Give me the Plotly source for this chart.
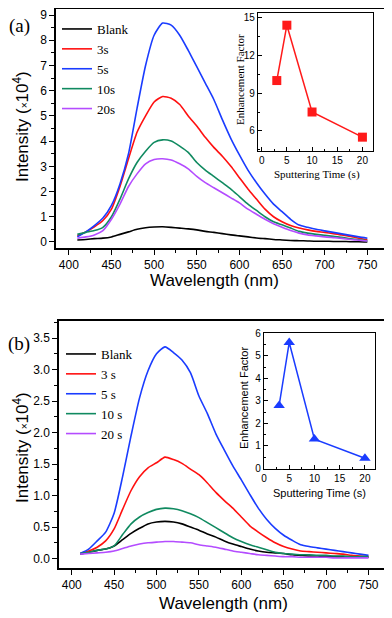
import plotly.graph_objects as go

# wavelength grid (nm)
wavelength = [410, 420, 430, 440, 450, 460, 470, 480, 490, 500, 510, 520, 530, 540, 550, 560, 570, 580,
              590, 600, 610, 620, 630, 640, 650, 660, 670, 680, 690, 700, 710, 720, 730, 740, 750]

series_names_a = ["Blank", "3s", "5s", "10s", "20s"]
series_names_b = ["Blank", "3 s", "5 s", "10 s", "20 s"]
colors = ["#000000", "#ff1010", "#1a3cff", "#108a60", "#b44cff"]

# panel (a) intensities (x10^4)
blank_a = [0.08, 0.10, 0.13, 0.15, 0.20, 0.30, 0.40, 0.50, 0.56, 0.59, 0.60, 0.58, 0.55, 0.52, 0.48, 0.42, 0.38, 0.33,
           0.28, 0.24, 0.20, 0.16, 0.13, 0.10, 0.08, 0.06, 0.05, 0.04, 0.03, 0.03, 0.02, 0.02, 0.01, 0.01, 0.00]
s3_a = [0.25, 0.40, 0.60, 0.85, 1.30, 2.20, 3.30, 4.35, 5.00, 5.55, 5.77, 5.70, 5.45, 5.00, 4.60, 4.15, 3.75, 3.40,
        3.00, 2.55, 2.10, 1.70, 1.30, 1.00, 0.80, 0.65, 0.55, 0.48, 0.42, 0.38, 0.33, 0.28, 0.22, 0.15, 0.09]
s5_a = [0.20, 0.40, 0.65, 0.95, 1.45, 2.30, 3.50, 5.30, 7.00, 8.20, 8.68, 8.60, 8.20, 7.60, 6.95, 6.30, 5.65, 4.85,
        4.10, 3.45, 2.85, 2.35, 1.90, 1.50, 1.20, 0.90, 0.67, 0.58, 0.50, 0.44, 0.38, 0.32, 0.26, 0.20, 0.15]
s10_a = [0.30, 0.38, 0.45, 0.58, 1.00, 1.70, 2.50, 3.15, 3.60, 3.95, 4.05, 4.00, 3.80, 3.55, 3.15, 2.85, 2.60, 2.35,
         2.10, 1.80, 1.50, 1.25, 1.00, 0.80, 0.68, 0.55, 0.42, 0.35, 0.30, 0.26, 0.22, 0.18, 0.13, 0.09, 0.05]
s20_a = [0.15, 0.20, 0.28, 0.45, 0.90, 1.50, 2.20, 2.70, 3.10, 3.27, 3.30, 3.25, 3.10, 2.90, 2.60, 2.35, 2.15, 1.95,
         1.75, 1.55, 1.30, 1.10, 0.90, 0.72, 0.58, 0.45, 0.35, 0.28, 0.24, 0.20, 0.17, 0.14, 0.10, 0.07, 0.04]

# panel (b) intensities (x10^4)
blank_b = [0.07, 0.10, 0.13, 0.15, 0.20, 0.30, 0.40, 0.48, 0.55, 0.58, 0.59, 0.58, 0.55, 0.50, 0.45, 0.39, 0.34, 0.28,
           0.23, 0.19, 0.15, 0.12, 0.10, 0.09, 0.08, 0.06, 0.05, 0.04, 0.04, 0.03, 0.03, 0.03, 0.02, 0.02, 0.02]
s3_b = [0.08, 0.12, 0.18, 0.28, 0.47, 0.78, 1.08, 1.30, 1.44, 1.52, 1.61, 1.57, 1.51, 1.42, 1.33, 1.20, 1.05, 0.92,
        0.80, 0.66, 0.52, 0.42, 0.33, 0.25, 0.19, 0.15, 0.12, 0.11, 0.10, 0.09, 0.08, 0.07, 0.05, 0.04, 0.03]
s5_b = [0.08, 0.15, 0.28, 0.42, 0.72, 1.30, 1.95, 2.55, 2.98, 3.25, 3.36, 3.27, 3.15, 2.95, 2.58, 2.30, 1.98, 1.72,
        1.47, 1.25, 1.02, 0.80, 0.62, 0.48, 0.37, 0.29, 0.22, 0.19, 0.17, 0.15, 0.13, 0.11, 0.09, 0.07, 0.05]
s10_b = [0.08, 0.10, 0.13, 0.15, 0.20, 0.38, 0.55, 0.66, 0.73, 0.78, 0.80, 0.79, 0.76, 0.71, 0.65, 0.57, 0.49, 0.41,
         0.33, 0.27, 0.22, 0.18, 0.14, 0.10, 0.08, 0.07, 0.06, 0.06, 0.05, 0.05, 0.04, 0.04, 0.03, 0.03, 0.03]
s20_b = [0.07, 0.08, 0.09, 0.10, 0.12, 0.16, 0.20, 0.23, 0.25, 0.26, 0.27, 0.27, 0.26, 0.25, 0.22, 0.20, 0.18, 0.15,
         0.12, 0.10, 0.08, 0.06, 0.05, 0.04, 0.03, 0.03, 0.02, 0.02, 0.02, 0.02, 0.01, 0.01, 0.01, 0.01, 0.01]

# insets: enhancement factor vs sputtering time
sput_time = [3, 5, 10, 20]
enh_a = [10.0, 14.4, 7.5, 5.5]
enh_b = [2.8, 5.6, 1.3, 0.45]

W, H = 392, 618
OFF = 8  # the page body puts the figure 8px in from the top-left corner


def px_x(a, b):
    return [(a - OFF) / W, (b - OFF) / W]


def px_y(top, bottom):
    return [1 - (bottom - OFF) / H, 1 - (top - OFF) / H]


fig = go.Figure()

for name, ys, c in zip(series_names_a, [blank_a, s3_a, s5_a, s10_a, s20_a], colors):
    fig.add_trace(go.Scatter(x=wavelength, y=ys, name=name, mode="lines",
                             line=dict(color=c, width=1.6, shape="spline", smoothing=0.6),
                             xaxis="x", yaxis="y", legend="legend"))

for name, ys, c in zip(series_names_b, [blank_b, s3_b, s5_b, s10_b, s20_b], colors):
    fig.add_trace(go.Scatter(x=wavelength, y=ys, name=name, mode="lines",
                             line=dict(color=c, width=1.6, shape="spline", smoothing=0.6),
                             xaxis="x3", yaxis="y3", legend="legend2"))

fig.add_trace(go.Scatter(x=sput_time, y=enh_a, mode="lines+markers", showlegend=False,
                         line=dict(color="#ff1a1a", width=1.5),
                         marker=dict(symbol="square", size=9, color="#ff1a1a"),
                         xaxis="x2", yaxis="y2"))
fig.add_trace(go.Scatter(x=sput_time, y=enh_b, mode="lines+markers", showlegend=False,
                         line=dict(color="#1a3cff", width=1.5),
                         marker=dict(symbol="triangle-up", size=10, color="#1a3cff"),
                         xaxis="x4", yaxis="y4"))

tickfont = dict(family="Arial, Liberation Sans", size=12, color="black")
inset_tickfont = dict(family="Arial, Liberation Sans", size=10, color="black")


def ax(domain, rng, dtick, minor_dtick, anchor, font, tickformat=None, lw=1.5, tl=5, side="outside"):
    d = dict(domain=domain, range=rng, dtick=dtick, tick0=0, anchor=anchor, automargin=False,
             showline=True, mirror=True, linecolor="black", linewidth=lw,
             ticks=side, ticklen=tl, tickwidth=1.2, tickcolor="black",
             minor=dict(dtick=minor_dtick, ticks=side, ticklen=max(tl - 2, 2), tickwidth=1, tickcolor="black"),
             showgrid=False, zeroline=False, tickfont=font)
    if tickformat:
        d["tickformat"] = tickformat
    return d


fig.update_layout(
    width=W, height=H,
    margin=dict(l=0, r=0, t=0, b=0, pad=0, autoexpand=False),
    paper_bgcolor="white", plot_bgcolor="white",
    xaxis=ax(px_x(56, 387), [385, 773], 50, 25, "y", tickfont),
    yaxis=ax(px_y(9, 248), [-0.24, 9.24], 1, 0.5, "x", tickfont),
    xaxis2=ax(px_x(258, 373), [-0.73, 22.1], 5, 2.5, "y2", inset_tickfont, lw=1.2, tl=4, side="inside"),
    yaxis2=ax(px_y(13, 151), [4.4, 15.37], 3, 1.5, "x2", inset_tickfont, lw=1.2, tl=4, side="inside"),
    xaxis3=ax(px_x(59, 388), [385, 773], 50, 25, "y3", tickfont),
    yaxis3=ax(px_y(321, 568), [-0.15, 3.77], 0.5, 0.25, "x3", tickfont, tickformat=".1f"),
    xaxis4=ax(px_x(264, 375), [0, 22], 5, 2.5, "y4", inset_tickfont, lw=1.2, tl=4, side="inside"),
    yaxis4=ax(px_y(333, 469), [-0.03, 6.02], 1, 0.5, "x4", inset_tickfont, lw=1.2, tl=4, side="inside"),
    legend=dict(x=(57 - OFF) / W, y=1 - (14 - OFF) / H, xanchor="left", yanchor="top",
                bgcolor="rgba(0,0,0,0)", tracegroupgap=0,
                font=dict(family="Times New Roman, Liberation Serif", size=13, color="black")),
    legend2=dict(x=(61 - OFF) / W, y=1 - (339 - OFF) / H, xanchor="left", yanchor="top",
                 bgcolor="rgba(0,0,0,0)", tracegroupgap=0,
                 font=dict(family="Times New Roman, Liberation Serif", size=13, color="black")),
)

sans = "Arial, Liberation Sans"
serif = "Times New Roman, Liberation Serif"
notes = [
    ("(a)", 19, 26, 0, serif, 19),
    ("(b)", 19, 344, 0, serif, 19),
    ("Wavelength (nm)", 214, 280, 0, sans, 17),
    ("Wavelength (nm)", 223, 603, 0, sans, 17),
    ("Intensity (<span style='font-size:10px'>×</span>10<sup>4</sup>)", 21, 127, -90, sans, 17),
    ("Intensity (<span style='font-size:10px'>×</span>10<sup>4</sup>)", 21, 448, -90, sans, 17),
    ("Enhancement Factor", 240, 80, -90, serif, 11),
    ("Sputtering Time (s)", 317, 174, 0, serif, 11),
    ("Enhancement Factor", 244, 398, -90, sans, 11),
    ("Sputtering Time (s)", 319, 493, 0, sans, 11),
]
for text, x, y, ang, fam, size in notes:
    fig.add_annotation(text=text, x=(x - OFF) / W, y=1 - (y - OFF) / H, xref="paper", yref="paper",
                       showarrow=False, textangle=ang, xanchor="center", yanchor="middle",
                       font=dict(family=fam, size=size, color="black"))

fig.write_html("out.html")
